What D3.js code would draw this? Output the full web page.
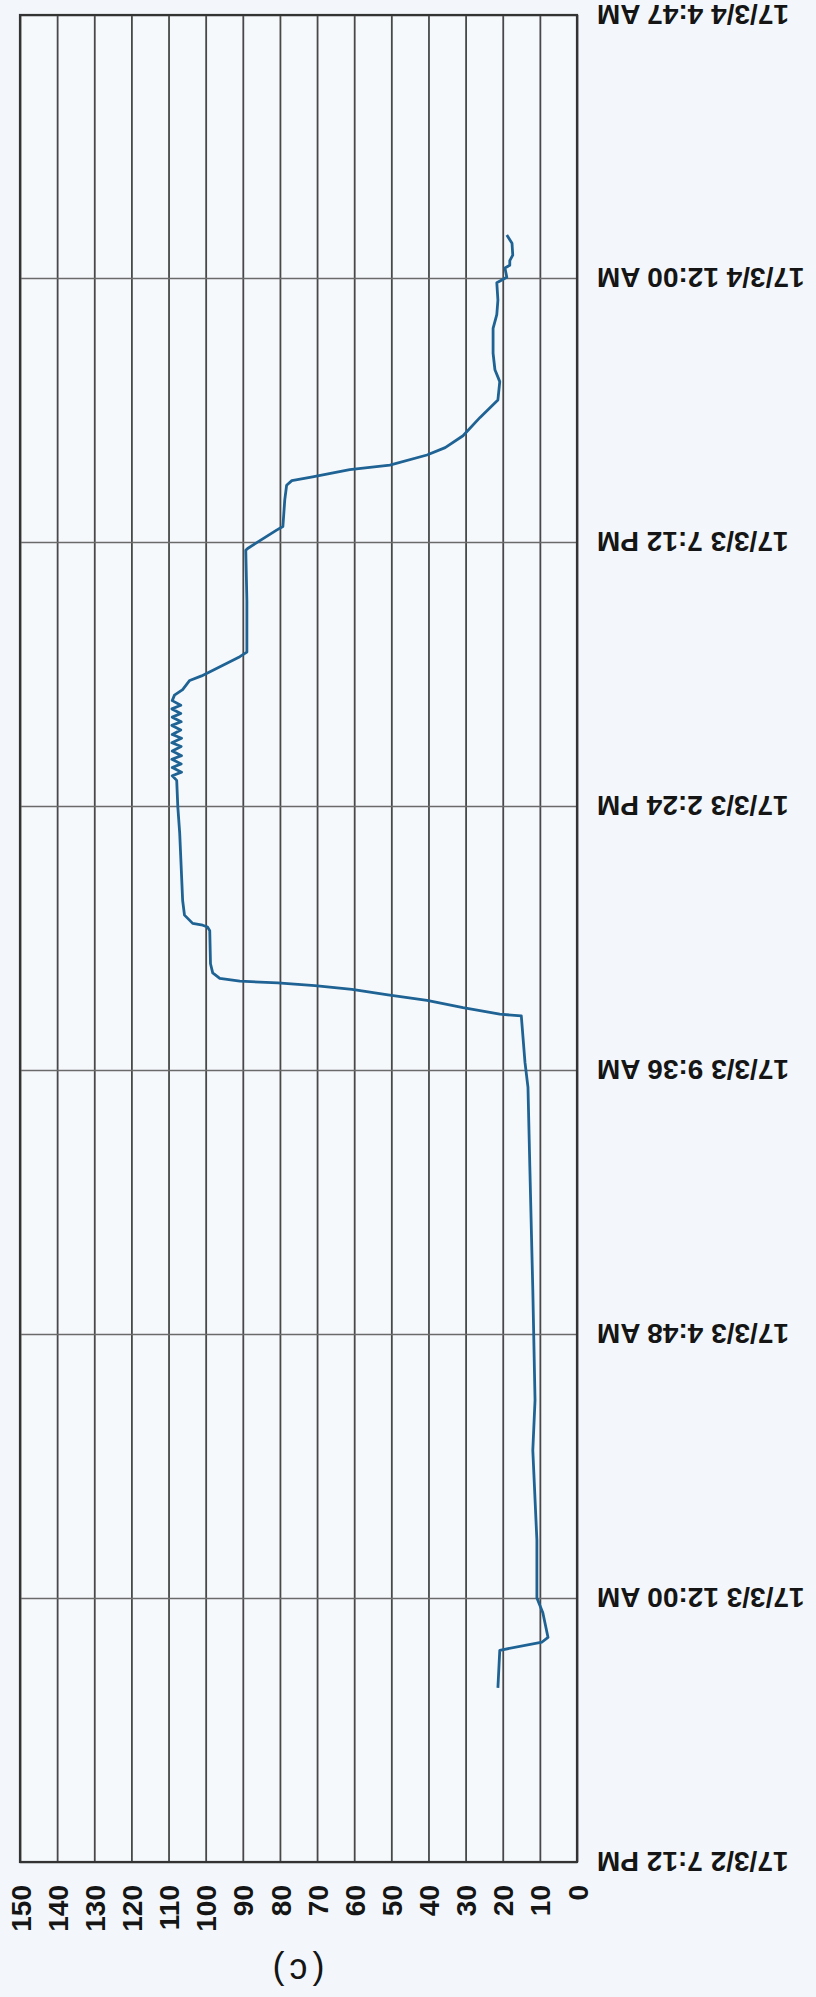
<!DOCTYPE html>
<html>
<head>
<meta charset="utf-8">
<script src="https://cdn.jsdelivr.net/npm/d3@7"></script>
<style>
  body { margin: 0; background: #f3f7fb; }
  svg { display: block; }
  .tick text { font-family: "Liberation Sans", Arial, sans-serif; fill: #151515; font-weight: bold; }
</style>
</head>
<body>
<script>
// chart is printed turned on its side: time runs bottom -> top, value runs right -> left

// time stamps (yy/m/d H:M) and readings
var times = [
  "17/3/2 22:22", "17/3/2 23:03", "17/3/2 23:12", "17/3/2 23:17", "17/3/2 23:44",
  "17/3/3 0:00", "17/3/3 1:03", "17/3/3 2:41", "17/3/3 3:36", "17/3/3 5:36",
  "17/3/3 7:50", "17/3/3 9:17", "17/3/3 9:44", "17/3/3 10:35", "17/3/3 10:37",
  "17/3/3 10:44", "17/3/3 10:52", "17/3/3 10:58", "17/3/3 11:04", "17/3/3 11:08",
  "17/3/3 11:11", "17/3/3 11:13", "17/3/3 11:16", "17/3/3 11:22", "17/3/3 11:32",
  "17/3/3 12:08", "17/3/3 12:12", "17/3/3 12:14", "17/3/3 12:16", "17/3/3 12:25",
  "17/3/3 12:41", "17/3/3 13:55", "17/3/3 14:23", "17/3/3 14:52", "17/3/3 14:57",
  "17/3/3 15:01", "17/3/3 15:06", "17/3/3 15:10", "17/3/3 15:15", "17/3/3 15:19",
  "17/3/3 15:24", "17/3/3 15:29", "17/3/3 15:33", "17/3/3 15:38", "17/3/3 15:42",
  "17/3/3 15:47", "17/3/3 15:52", "17/3/3 15:56", "17/3/3 16:01", "17/3/3 16:05",
  "17/3/3 16:10", "17/3/3 16:14", "17/3/3 16:19", "17/3/3 16:25", "17/3/3 16:31",
  "17/3/3 16:41", "17/3/3 16:46", "17/3/3 17:07", "17/3/3 17:12", "17/3/3 18:08",
  "17/3/3 19:03", "17/3/3 19:05", "17/3/3 19:25", "17/3/3 19:29", "17/3/3 19:58",
  "17/3/3 20:14", "17/3/3 20:19", "17/3/3 20:23", "17/3/3 20:31", "17/3/3 20:36",
  "17/3/3 20:47", "17/3/3 20:55", "17/3/3 21:08", "17/3/3 21:28", "17/3/3 21:47",
  "17/3/3 22:07", "17/3/3 22:20", "17/3/3 22:38", "17/3/3 23:05", "17/3/3 23:20",
  "17/3/3 23:36", "17/3/3 23:55", "17/3/4 0:01", "17/3/4 0:11", "17/3/4 0:14",
  "17/3/4 0:19", "17/3/4 0:25", "17/3/4 0:38", "17/3/4 0:47"
];
var readings = [
  21.3, 20.8, 9.4, 7.8, 9.2,
  10.8, 10.8, 11.9, 11.3, 11.9,
  12.7, 13.2, 14.0, 15.0, 20.8,
  30.7, 40.4, 50.9, 60.6, 70.6,
  80.6, 90.8, 96.2, 98.1, 98.7,
  98.9, 99.5, 100.8, 103.5, 105.7,
  106.2, 107.0, 107.5, 107.8, 109.0,
  106.5, 109.0, 106.6, 109.1, 106.5,
  109.0, 106.6, 109.1, 106.5, 109.0,
  106.7, 109.1, 106.6, 109.0, 106.7,
  109.1, 106.7, 109.0, 108.4, 106.2,
  104.3, 101.1, 90.8, 88.9, 88.9,
  89.2, 88.7, 80.9, 79.2, 78.7,
  78.2, 76.8, 71.2, 61.2, 50.4,
  40.4, 35.5, 30.7, 26.1, 21.3,
  20.8, 22.1, 22.6, 22.6, 21.6,
  21.3, 21.6, 18.9, 19.4, 18.1,
  18.1, 17.3, 17.5, 18.9
];

// axis ticks
var valueTicks = [0, 10, 20, 30, 40, 50, 60, 70, 80, 90, 100, 110, 120, 130, 140, 150];
var timeTicks = ["17/3/2 19:12", "17/3/3 0:00", "17/3/3 4:48", "17/3/3 9:36",
                 "17/3/3 14:24", "17/3/3 19:12", "17/3/4 0:00", "17/3/4 4:47"];
var caption = "(c)";

var width = 816,
    height = 1997;

var parseTime = d3.timeParse("%y/%m/%d %H:%M");
var fmtTime = d3.timeFormat("%y/%-m/%-d %-I:%M %p");

var data = times.map(function(t, i){
    return {t: parseTime(t), v: readings[i]};
});
var tickDates = timeTicks.map(parseTime);

var svg = d3.select("body")
    .append("svg")
    .attr("width", width)
    .attr("height", height);

svg.append("rect")
    .attr("width", width)
    .attr("height", height)
    .attr("fill", "#f3f7fb");

// plot box edges
var plotL = 20, plotR = 577, plotT = 15, plotB = 1862;

// value goes right to left
var x = d3.scaleLinear()
    .domain([0, 150])
    .range([plotR, plotL]);

// time goes bottom to top
var y = d3.scaleTime()
    .domain([tickDates[0], tickDates[tickDates.length - 1]])
    .range([plotB, plotT]);

// plot area
svg.append("rect")
    .attr("x", plotL)
    .attr("y", plotT)
    .attr("width", plotR - plotL)
    .attr("height", plotB - plotT)
    .attr("fill", "#f6f9fc");

// vertical grid (value)
var vgrid = svg.append("g")
    .attr("transform", "translate(0," + plotT + ")")
    .call(d3.axisBottom(x).tickValues(valueTicks).tickSize(plotB - plotT).tickFormat(""));
vgrid.select(".domain").remove();
vgrid.selectAll("line").attr("stroke", "#484848").attr("stroke-width", 1.8);

// horizontal grid (time)
var hgrid = svg.append("g")
    .attr("transform", "translate(" + plotL + ",0)")
    .call(d3.axisRight(y).tickValues(tickDates).tickSize(plotR - plotL).tickFormat(""));
hgrid.select(".domain").remove();
hgrid.selectAll("line").attr("stroke", "#6a6a6a").attr("stroke-width", 1.4);

// frame
svg.append("rect")
    .attr("x", plotL)
    .attr("y", plotT)
    .attr("width", plotR - plotL)
    .attr("height", plotB - plotT)
    .attr("fill", "none")
    .attr("stroke", "#333")
    .attr("stroke-width", 2.2);

// value labels, turned on their side
var xAxis = svg.append("g")
    .attr("transform", "translate(0," + plotB + ")")
    .call(d3.axisBottom(x).tickValues(valueTicks).tickSize(0));
xAxis.select(".domain").remove();
xAxis.selectAll("text")
    .attr("x", 0)
    .attr("y", 0)
    .attr("dy", "0.36em")
    .attr("text-anchor", "end")
    .attr("transform", "translate(0,23) rotate(-90)")
    .style("font-size", "28px");

// time labels, upside down
var yAxis = svg.append("g")
    .attr("transform", "translate(" + plotR + ",0)")
    .call(d3.axisRight(y).tickValues(tickDates).tickSize(0).tickFormat(fmtTime));
yAxis.select(".domain").remove();
yAxis.selectAll("text")
    .attr("x", 0)
    .attr("dy", "0.36em")
    .attr("text-anchor", "end")
    .attr("transform", "translate(20,0) rotate(180)")
    .style("font-size", "28px");

// the series
var line = d3.line()
    .x(function(d){ return x(d.v); })
    .y(function(d){ return y(d.t); })
    .curve(d3.curveLinear);

svg.append("path")
    .datum(data)
    .attr("fill", "none")
    .attr("stroke", "#1f6394")
    .attr("stroke-width", 2.8)
    .attr("stroke-linejoin", "round")
    .attr("d", line);

// panel caption
svg.append("text")
    .attr("transform", "translate(296,1972) rotate(180)")
    .attr("text-anchor", "middle")
    .attr("dy", "0.36em")
    .style("font-family", "Liberation Sans, Arial, sans-serif")
    .style("font-size", "36px")
    .style("letter-spacing", "5px")
    .attr("fill", "#151515")
    .text(caption);
</script>
</body>
</html>
